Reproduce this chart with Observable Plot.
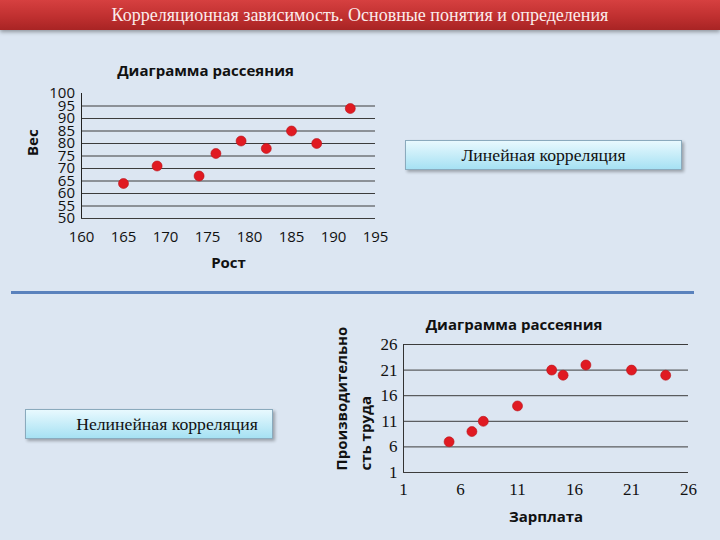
<!DOCTYPE html>
<html><head><meta charset="utf-8">
<script src="https://cdn.jsdelivr.net/npm/d3@7"></script>
<script src="https://cdn.jsdelivr.net/npm/@observablehq/plot@0.6"></script>
<style>
html,body{margin:0;padding:0;}
body{width:720px;height:540px;overflow:hidden;background:#dce6f2;position:relative;font-family:"Liberation Serif","Times New Roman",serif;}
#bar{position:absolute;left:0;top:0;width:720px;height:30px;background:linear-gradient(#d64040,#c03030 55%,#a82424);color:#fbecec;font-size:18px;text-align:center;line-height:30px;box-shadow:0 2px 4px rgba(0,0,0,0.35);}
.box{position:absolute;height:29px;border:1px solid #8aaabd;background:linear-gradient(#e8f9fe,#a6e1f3);box-shadow:2px 2px 3px rgba(0,0,0,0.3);font-size:17.7px;line-height:29px;color:#111;text-align:center;box-sizing:border-box;}
#line{position:absolute;left:11px;top:291px;width:683px;height:3px;background:#5a82bd;}
.chart{position:absolute;}
.chart svg{background:transparent;}
</style></head><body>
<div id="bar">Корреляционная зависимость. Основные понятия и определения</div>
<div class="box" style="left:405px;top:140px;width:277px;height:30px;">Линейная корреляция</div>
<div class="box" style="left:25px;top:409px;width:248px;height:30px;padding-left:36px;">Нелинейная корреляция</div>
<div id="line"></div>
<div class="chart" id="c1" style="left:0px;top:40px;"></div>
<div class="chart" id="c2" style="left:320px;top:300px;"></div>
<script>
// Chart 1: Рост / Вес
const heights = [165, 169, 174, 176, 179, 182, 185, 188, 192];
const weights = [64, 71, 67, 76, 81, 78, 85, 80, 94];
const xTicks1 = [160, 165, 170, 175, 180, 185, 190, 195];
const yTicks1 = [50, 55, 60, 65, 70, 75, 80, 85, 90, 95, 100];
const grid1 = [50, 55, 60, 65, 70, 75, 80, 85, 90, 95];

// Chart 2: Зарплата / Производительность труда
const salary = [5, 7, 8, 11, 14, 15, 17, 21, 24];
const productivity = [7, 9, 11, 14, 21, 20, 22, 21, 20];
const ticks2 = [1, 6, 11, 16, 21, 26];
const grid2 = [1, 6, 11, 16, 21, 26];

const chartTitle = "Диаграмма рассеяния";
const sans = "'Open Sans', 'Noto Sans', sans-serif";
const serif = "'Liberation Serif', 'Times New Roman', serif";
const red = "#e01a22";
const redEdge = "#b8121a";

const data1 = heights.map((h, i) => ({h, w: weights[i]}));
const p1 = Plot.plot({
  width: 400, height: 240,
  marginLeft: 81, marginRight: 25, marginTop: 53, marginBottom: 62,
  style: {background: "transparent", fontFamily: sans, color: "#111", overflow: "visible"},
  x: {domain: [160, 195]},
  y: {domain: [50, 100]},
  marks: [
    Plot.ruleY(grid1, {stroke: "#3c3c3c", strokeWidth: 1}),
    Plot.ruleX([160], {stroke: "#222", strokeWidth: 1}),
    Plot.axisX(xTicks1, {tickSize: 0, tickPadding: 12.5, fontSize: 15, label: null, fontFamily: sans}),
    Plot.axisY(yTicks1, {tickSize: 0, tickPadding: 6.5, fontSize: 15, label: null, fontFamily: sans}),
    Plot.dot(data1, {x: "h", y: "w", r: 5, fill: red, stroke: redEdge, strokeWidth: 0.6}),
    Plot.text([chartTitle], {text: d => d, frameAnchor: "top", dx: -23, dy: -28, fontWeight: "bold", fontSize: 15, fontFamily: sans}),
    Plot.text(["Рост"], {text: d => d, frameAnchor: "bottom", dy: 49, fontWeight: "bold", fontSize: 15, fontFamily: sans}),
    Plot.text(["Вес"], {text: d => d, frameAnchor: "left", dx: -48, rotate: -90, fontWeight: "bold", fontSize: 15, fontFamily: sans})
  ]
});
document.getElementById("c1").appendChild(p1);

const data2 = salary.map((s, i) => ({s, p: productivity[i]}));
const p2 = Plot.plot({
  width: 400, height: 240,
  marginLeft: 83, marginRight: 32, marginTop: 44, marginBottom: 68,
  style: {background: "transparent", fontFamily: serif, color: "#111", overflow: "visible"},
  x: {domain: [1, 26]},
  y: {domain: [1, 26]},
  marks: [
    Plot.ruleY(grid2, {stroke: "#3c3c3c", strokeWidth: 1}),
    Plot.ruleX([1], {stroke: "#333", strokeWidth: 1}),
    Plot.axisX(ticks2, {tickSize: 0, tickPadding: 10.5, fontSize: 17, label: null, fontFamily: serif}),
    Plot.axisY(ticks2, {tickSize: 0, tickPadding: 6, fontSize: 17, label: null, fontFamily: serif}),
    Plot.dot(data2, {x: "s", y: "p", r: 5, fill: red, stroke: redEdge, strokeWidth: 0.6}),
    Plot.text([chartTitle], {text: d => d, frameAnchor: "top", dx: -32, dy: -25, fontWeight: "bold", fontSize: 15, fontFamily: sans}),
    Plot.text(["Зарплата"], {text: d => d, frameAnchor: "bottom", dy: 49, fontWeight: "bold", fontSize: 15, fontFamily: sans}),
    Plot.text(["Производительно"], {text: d => d, frameAnchor: "bottom-left", dx: -57, dy: -2, rotate: -90, textAnchor: "start", fontWeight: "bold", fontSize: 15, fontFamily: sans}),
    Plot.text(["сть труда"], {text: d => d, frameAnchor: "bottom-left", dx: -33, dy: -2, rotate: -90, textAnchor: "start", fontWeight: "bold", fontSize: 15, fontFamily: sans})
  ]
});
document.getElementById("c2").appendChild(p2);
</script>
</body></html>
